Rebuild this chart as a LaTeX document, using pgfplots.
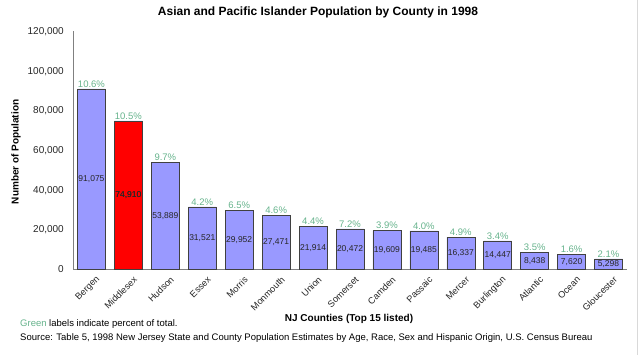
\documentclass[border=0pt]{standalone}
\usepackage{pgfplots}
\usepackage{pgfplotstable}
\pgfplotsset{compat=1.18}
\usepackage{fontspec}
\setmainfont{Liberation Sans}
\definecolor{barblue}{RGB}{153,153,255}
\definecolor{pctgreen}{RGB}{102,179,140}
\definecolor{axgray}{RGB}{128,128,128}
\pgfplotstableread{
x y pct
0 91075 10.6
1 74910 10.5
2 53889 9.7
3 31521 4.2
4 29952 6.5
5 27471 4.6
6 21914 4.4
7 20472 7.2
8 19609 3.9
9 19485 4.0
10 16337 4.9
11 14447 3.4
12 8438 3.5
13 7620 1.6
14 5298 2.1
}\datatable
\pgfplotstableread{
x y
1 74910
}\redtable
\begin{document}
\begin{tikzpicture}
\path[use as bounding box] (0,0) rectangle (640pt,355pt);
\begin{axis}[
  at={(73pt,85.5pt)}, anchor=south west,
  scale only axis, width=554pt, height=238pt,
  xmin=-0.5, xmax=14.5, ymin=0, ymax=120000,
  axis x line=bottom, axis y line=left,
  axis line style={draw=axgray, -},
  major tick length=0pt,
  ybar, bar width=28pt,
  xtick={0,...,14},
  xticklabels={Bergen,Middlesex,Hudson,Essex,Morris,Monmouth,Union,Somerset,Camden,Passaic,Mercer,Burlington,Atlantic,Ocean,Gloucester},
  xticklabel style={rotate=45, anchor=east, font=\fontsize{9.2}{11}\selectfont, text=black!85, inner sep=0pt, yshift=-11pt, xshift=-1pt},
  ytick distance=20000,
  scaled y ticks=false,
  /pgf/number format/assume math mode=true,
  yticklabel style={/pgf/number format/.cd, fixed, 1000 sep={,}, /tikz/.cd, font=\fontsize{10}{12}\selectfont, text=black!85, anchor=east, inner sep=0pt, xshift=-9pt},
]
\addplot[fill=barblue, draw=black!75, line width=0.6pt, bar shift=0pt,
  nodes near coords={\pgfmathprintnumber[fixed,precision=0,1000 sep={,},assume math mode=true]{\pgfplotspointmeta}},
  visualization depends on=y \as \rawy,
  every node near coord/.append style={anchor=center, font=\fontsize{8.5}{10}\selectfont, text=black!85, shift={(axis direction cs:0,-\rawy/2)}},
] table[x=x,y=y] {\datatable};
\addplot[fill=red, draw=black!75, line width=0.6pt, bar shift=0pt,
  nodes near coords={\pgfmathprintnumber[fixed,precision=0,1000 sep={,},assume math mode=true]{\pgfplotspointmeta}},
  visualization depends on=y \as \rawy,
  every node near coord/.append style={anchor=center, font=\fontsize{8.5}{10}\selectfont, text=black!85, shift={(axis direction cs:0,-\rawy/2)}},
] table[x=x,y=y] {\redtable};
\addplot[draw=none, fill=none, bar shift=0pt,
  point meta=explicit symbolic,
  nodes near coords={\pgfplotspointmeta\%},
  every node near coord/.append style={anchor=south, font=\fontsize{9.5}{11}\selectfont, text=pctgreen, inner sep=1.5pt},
] table[x=x,y=y,meta=pct] {\datatable};
\end{axis}
\node[font=\fontsize{12}{14}\selectfont\bfseries] at (318pt,343pt) {Asian and Pacific Islander Population by County in 1998};
\node[font=\fontsize{10}{12}\selectfont\bfseries, rotate=90] at (16pt,203pt) {Number of Population};
\node[font=\fontsize{10}{12}\selectfont\bfseries] at (349pt,36pt) {NJ Counties (Top 15 listed)};
\node[font=\fontsize{9.5}{11}\selectfont, anchor=west, inner sep=0pt] at (20pt,31pt) {\textcolor{pctgreen}{Green} labels indicate percent of total.};
\node[font=\fontsize{9.5}{11}\selectfont, anchor=west, inner sep=0pt] at (20pt,17pt) {Source: Table 5, 1998 New Jersey State and County Population Estimates by Age, Race, Sex and Hispanic Origin, U.S. Census Bureau};
\draw[black!15] (637pt,0) -- (637pt,355pt);
\end{tikzpicture}
\end{document}
